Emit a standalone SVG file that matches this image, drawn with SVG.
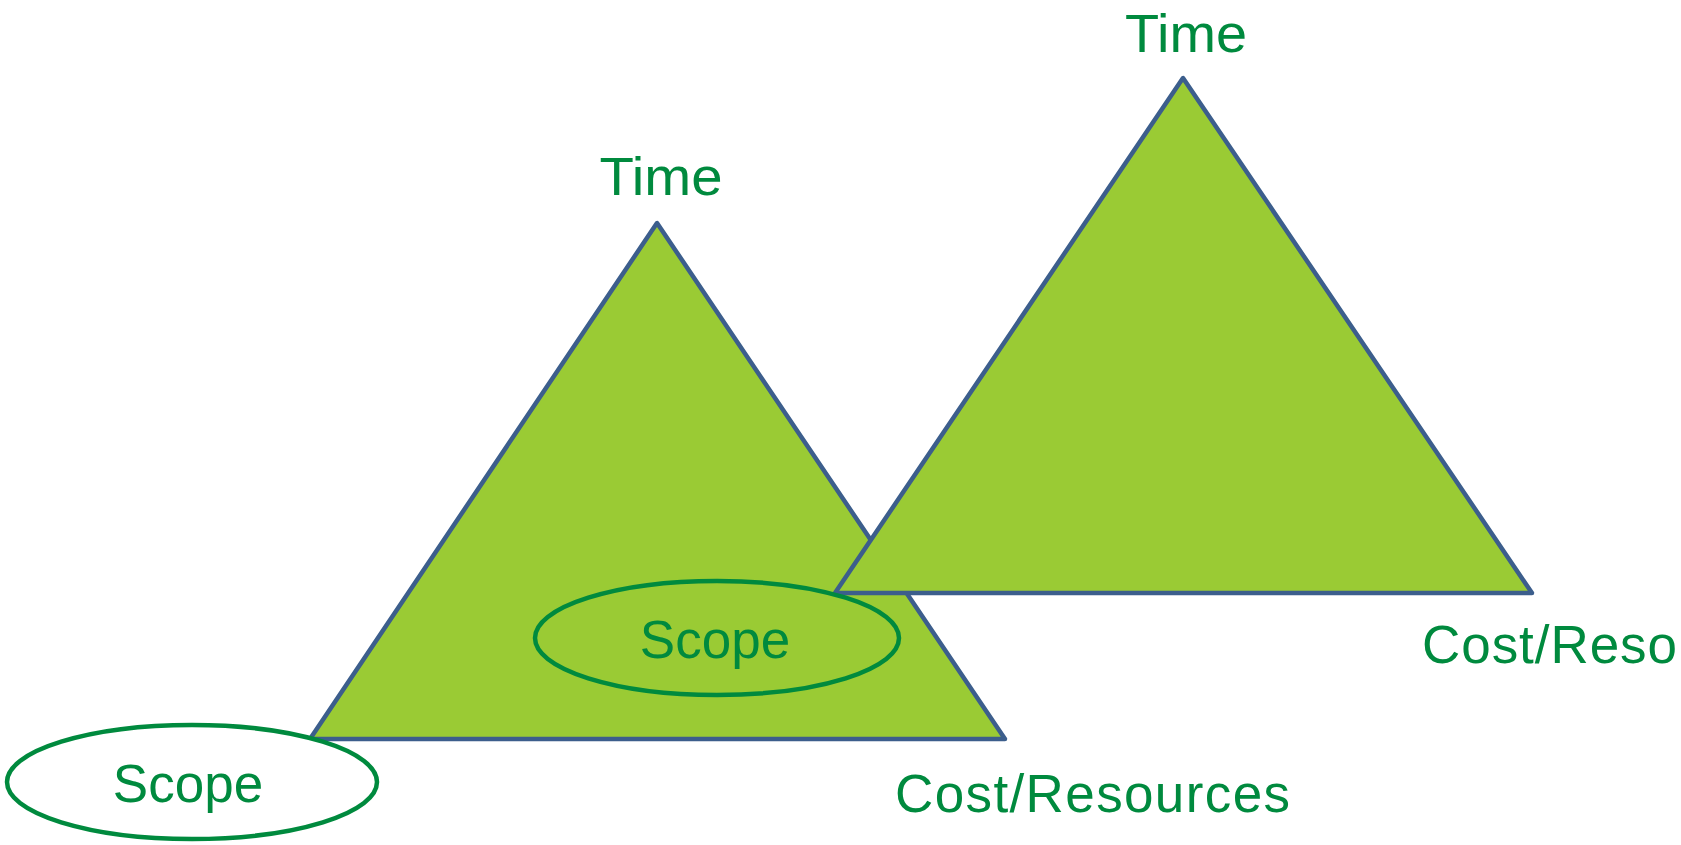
<svg xmlns="http://www.w3.org/2000/svg" width="1681" height="845" viewBox="0 0 1681 845">
  <style>
    .tri { fill: #9ACB34; stroke: #3C5E8C; stroke-width: 4.5; stroke-linejoin: round; }
    .scope { stroke: #008A3E; stroke-width: 4.5; }
    .lbl { font-family: "Liberation Sans", Arial, sans-serif; font-size: 53px; fill: #008A3E; }
  </style>
  <rect width="1681" height="845" fill="#FFFFFF"/>

  <!-- smaller triangle (drawn first, sits behind the larger one) -->
  <g id="triangle-small">
    <polygon class="tri" points="657,223 310,739 1005,739"/>
    <text class="lbl" x="661" y="195" text-anchor="middle" textLength="123" lengthAdjust="spacingAndGlyphs">Time</text>
    <text class="lbl" x="895" y="812" textLength="395" lengthAdjust="spacing">Cost/Resources</text>
  </g>

  <!-- larger triangle -->
  <g id="triangle-large">
    <polygon class="tri" points="1183,78 835,593 1532,593"/>
    <text class="lbl" x="1186" y="52" text-anchor="middle" textLength="122" lengthAdjust="spacingAndGlyphs">Time</text>
    <text class="lbl" x="1422" y="663" textLength="255" lengthAdjust="spacing">Cost/Reso</text>
  </g>

  <!-- scope ellipse at the base corner -->
  <g id="scope-outer">
    <ellipse class="scope" cx="192" cy="782" rx="185" ry="57" fill="#FFFFFF"/>
    <text class="lbl" x="188" y="802" text-anchor="middle">Scope</text>
  </g>

  <!-- scope ellipse inside the smaller triangle -->
  <g id="scope-inner">
    <ellipse class="scope" cx="717" cy="638" rx="182" ry="57" fill="none"/>
    <text class="lbl" x="715" y="658" text-anchor="middle">Scope</text>
  </g>
</svg>
